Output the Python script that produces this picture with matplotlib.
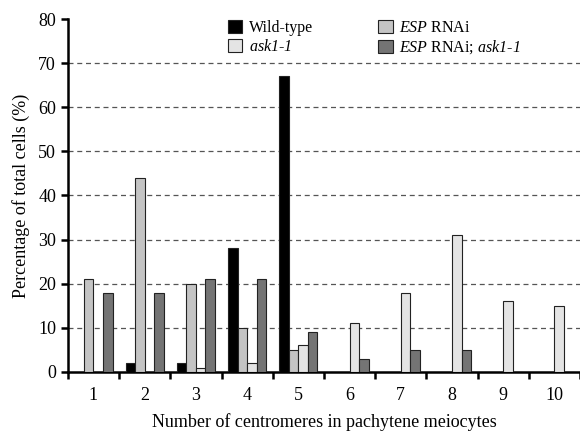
import matplotlib
matplotlib.use("Agg")
import matplotlib.pyplot as plt
import numpy as np

categories = ["1", "2", "3", "4", "5", "6", "7", "8", "9", "10"]
wild_type = [0, 2, 2, 28, 67, 0, 0, 0, 0, 0]
esp_rnai = [21, 44, 20, 10, 5, 0, 0, 0, 0, 0]
ask1 = [0, 0, 1, 2, 6, 11, 18, 31, 16, 15]
esp_ask1 = [18, 18, 21, 21, 9, 3, 5, 5, 0, 0]

plt.rcParams['font.family'] = ['Liberation Serif', 'DejaVu Serif']
plt.rcParams['mathtext.fontset'] = 'custom'
plt.rcParams['mathtext.it'] = 'Liberation Serif:italic'
plt.rcParams['mathtext.sf'] = 'Liberation Serif:italic'
plt.rcParams['mathtext.rm'] = 'Liberation Serif'

fig = plt.figure(figsize=(5.8, 4.32), dpi=100)
ax = fig.add_axes([0.117, 0.139, 0.883, 0.817])

x = np.arange(1, len(categories) + 1)
w = 0.187
series = [
    (wild_type, "#000000", "Wild-type"),
    (esp_rnai, "#c4c4c4", r"$\mathsf{ESP}$ RNAi"),
    (ask1, "#e4e4e4", r"$\mathsf{ask1}$-$\mathsf{1}$"),
    (esp_ask1, "#747474", r"$\mathsf{ESP}$ RNAi; $\mathsf{ask1}$-$\mathsf{1}$"),
]
handles = {}
for i, (vals, col, lab) in enumerate(series):
    off = (i - 1.5) * w
    b = ax.bar(x + off, vals, width=w, color=col, edgecolor="#222222",
               linewidth=0.8, zorder=3, label=lab)
    handles[lab] = b

ax.set_xlim(0.5, 10.5)
ax.set_ylim(0, 80)
ax.set_yticks(np.arange(0, 81, 10))
for yv in range(10, 80, 10):
    ax.axhline(yv, color="#555555", linestyle=(0, (4, 3)), linewidth=0.9, zorder=1)

ax.set_xticks(np.arange(0.5, 10.6, 1.0))
ax.set_xticklabels([])
ax.set_xticks(x, minor=True)
ax.set_xticklabels(categories, minor=True)
ax.tick_params(axis='x', which='major', direction='out', length=5, width=1.8)
ax.tick_params(axis='x', which='minor', length=0, pad=10.5, labelsize=13)
ax.tick_params(axis='y', direction='out', length=5, width=1.8, labelsize=13)

for s in ['top', 'right']:
    ax.spines[s].set_visible(False)
ax.spines['left'].set_linewidth(1.8)
ax.spines['bottom'].set_linewidth(1.8)

ax.set_ylabel("Percentage of total cells (%)", fontsize=13, labelpad=6)
ax.set_xlabel("Number of centromeres in pachytene meiocytes", fontsize=13, labelpad=7)

order = [series[0][2], series[2][2], series[1][2], series[3][2]]
leg = ax.legend([handles[k] for k in order], order, ncol=2, loc='upper left',
                bbox_to_anchor=(0.30, 1.015), frameon=False, fontsize=11.5,
                handlelength=0.9, handleheight=0.9, handletextpad=0.4,
                columnspacing=4.1, labelspacing=0.15, borderaxespad=0)

fig.savefig("out.png", dpi=100)
